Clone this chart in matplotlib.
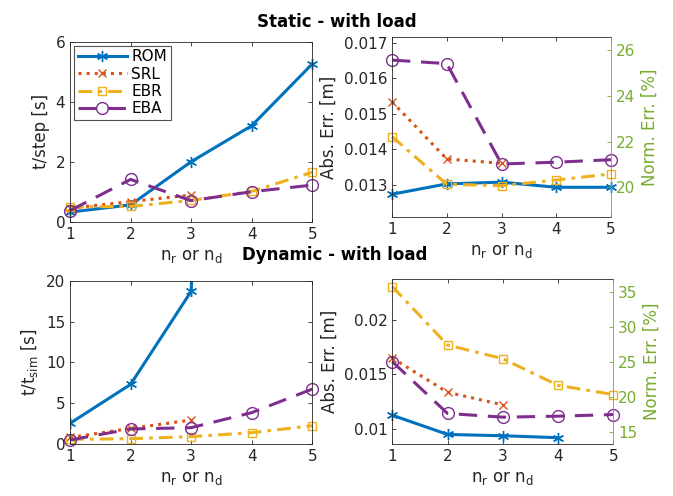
import matplotlib
matplotlib.use("Agg")
import matplotlib.pyplot as plt

plt.rcParams['font.family'] = ['DejaVu Sans']

x = [1, 2, 3, 4, 5]
labels = ["ROM", "SRL", "EBR", "EBA"]

# Static - with load: time per step [s]
st_time_rom = [0.32, 0.56, 2.0, 3.2, 5.26]
st_time_srl = [0.45, 0.67, 0.89]
st_time_ebr = [0.49, 0.51, 0.71, 1.01, 1.65]
st_time_eba = [0.37, 1.41, 0.70, 1.0, 1.22]

# Static - with load: absolute error [m]
st_err_rom = [0.01274, 0.01303, 0.01308, 0.012935, 0.012935]
st_err_srl = [0.01534, 0.01373, 0.01361]
st_err_ebr = [0.01436, 0.01302, 0.01298, 0.01314, 0.01331]
st_err_eba = [0.01651, 0.01641, 0.01359, 0.01364, 0.01371]

# Dynamic - with load: t / t_sim
dy_time_rom = [2.53, 7.3, 18.7, 200.0]
dy_time_srl = [0.8, 1.9, 2.94]
dy_time_ebr = [0.57, 0.65, 0.9, 1.39, 2.24]
dy_time_eba = [0.49, 1.84, 2.0, 3.84, 6.73]

# Dynamic - with load: absolute error [m]
dy_err_rom = [0.01125, 0.00948, 0.00936, 0.00918]
dy_err_srl = [0.01651, 0.01336, 0.0122]
dy_err_ebr = [0.02309, 0.01771, 0.01645, 0.0140, 0.01315]
dy_err_eba = [0.01618, 0.01141, 0.01107, 0.01116, 0.01131]

colors = ['#0072BD', '#D95319', '#EDB120', '#7E2F8E']
styles = ['-', ':', (0, (4.5, 2.0, 1.2, 2.0)), (0, (6, 3.5))]
markers = [(6, 2, 0), 'x', 's', 'o']
msizes = [8, 6, 6, 8.5]
green = '#77AC30'
axc = '#262626'

W, H = 673, 496
fig = plt.figure(figsize=(W / 100, H / 100), dpi=100)

def rect(l, t, r, b):
    return [l / W, 1 - b / H, (r - l) / W, (b - t) / H]

def style_ax(ax, right_box=True):
    for s in ax.spines.values():
        s.set_color(axc)
        s.set_linewidth(0.6)
    ax.tick_params(direction='in', length=3, width=0.6, colors=axc,
                   labelsize=11, top=True, right=right_box)
    ax.set_xlim(1, 5)
    ax.set_xticks(x)

def plot_series(ax, data, clip_first=False):
    hs = []
    for i, d in enumerate(data):
        xs = x[:len(d)]
        h, = ax.plot(xs, d, linestyle=styles[i], color=colors[i], marker=markers[i],
                     markersize=msizes[i], markerfacecolor='none', markeredgewidth=1.0,
                     linewidth=2.2, label=labels[i],
                     clip_on=(clip_first and i == 0))
        hs.append(h)
    return hs

xlab = r'n$_\mathregular{r}$ or n$_\mathregular{d}$'

# top-left
ax1 = fig.add_axes(rect(70, 41.7, 312.3, 221.7))
style_ax(ax1)
plot_series(ax1, [st_time_rom, st_time_srl, st_time_ebr, st_time_eba])
ax1.set_ylim(0, 6)
ax1.set_yticks([0, 2, 4, 6])
ax1.set_ylabel('t/step [s]', fontsize=12, color=axc)
ax1.set_xlabel(xlab, fontsize=12, color=axc)
leg = ax1.legend(loc='upper left', fontsize=11, frameon=True, fancybox=False,
                 borderpad=0.25, labelspacing=0.15, handlelength=3.2,
                 handletextpad=0.3, borderaxespad=0.25)
leg.get_frame().set_edgecolor(axc)
leg.get_frame().set_linewidth(0.8)

# top-right
ax2 = fig.add_axes(rect(392, 37.3, 611, 217))
style_ax(ax2, right_box=False)
plot_series(ax2, [st_err_rom, st_err_srl, st_err_ebr, st_err_eba])
ax2.set_ylim(0.0121, 0.01715)
ax2.set_yticks([0.013, 0.014, 0.015, 0.016, 0.017])
ax2.set_yticklabels(['0.013', '0.014', '0.015', '0.016', '0.017'])
ax2.set_ylabel('Abs. Err. [m]', fontsize=12, color=axc)
ax2.set_xlabel(xlab, fontsize=12, color=axc)
ax2.spines['right'].set_visible(False)
ax2r = ax2.twinx()
ax2r.set_ylim(18.70, 26.56)
ax2r.set_yticks([20, 22, 24, 26])
for s in ax2r.spines.values():
    s.set_visible(False)
ax2r.spines['right'].set_visible(True)
ax2r.spines['right'].set_color(green)
ax2r.spines['right'].set_linewidth(0.6)
ax2r.tick_params(direction='in', length=3, width=0.6, colors=green, labelsize=11)
ax2r.set_ylabel('Norm. Err. [%]', fontsize=12, color=green)

# bottom-left
ax3 = fig.add_axes(rect(70, 280.7, 312.3, 444))
style_ax(ax3)
plot_series(ax3, [dy_time_rom, dy_time_srl, dy_time_ebr, dy_time_eba], clip_first=True)
ax3.set_ylim(0, 20)
ax3.set_yticks([0, 5, 10, 15, 20])
ax3.set_ylabel(r't/t$_\mathregular{sim}$ [s]', fontsize=12, color=axc)
ax3.set_xlabel(xlab, fontsize=12, color=axc)

# bottom-right
ax4 = fig.add_axes(rect(392.3, 279.3, 613.3, 444))
style_ax(ax4, right_box=False)
plot_series(ax4, [dy_err_rom, dy_err_srl, dy_err_ebr, dy_err_eba])
ax4.set_ylim(0.0086, 0.02376)
ax4.set_yticks([0.01, 0.015, 0.02])
ax4.set_yticklabels(['0.01', '0.015', '0.02'])
ax4.set_ylabel('Abs. Err. [m]', fontsize=12, color=axc)
ax4.set_xlabel(xlab, fontsize=12, color=axc)
ax4.spines['right'].set_visible(False)
ax4r = ax4.twinx()
ax4r.set_ylim(13.3, 36.8)
ax4r.set_yticks([15, 20, 25, 30, 35])
for s in ax4r.spines.values():
    s.set_visible(False)
ax4r.spines['right'].set_visible(True)
ax4r.spines['right'].set_color(green)
ax4r.spines['right'].set_linewidth(0.6)
ax4r.tick_params(direction='in', length=3, width=0.6, colors=green, labelsize=11)
ax4r.set_ylabel('Norm. Err. [%]', fontsize=12, color=green)

fig.text(337 / W, 1 - 22 / H, 'Static - with load', ha='center', va='center',
         fontsize=12, fontweight='bold', color='black')
fig.text(335 / W, 1 - 255 / H, 'Dynamic - with load', ha='center', va='center',
         fontsize=12, fontweight='bold', color='black')

fig.savefig('out.png', dpi=100, facecolor='white')
